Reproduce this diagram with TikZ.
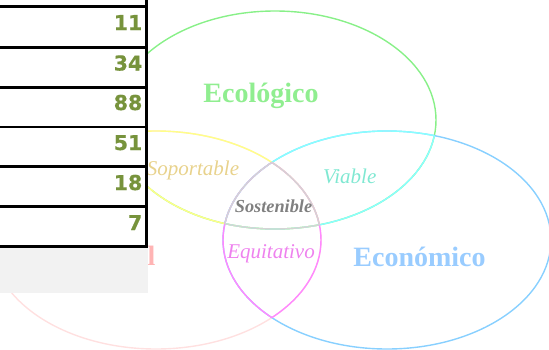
\documentclass[tikz,border=0pt]{standalone}
\usepackage{fontspec}
\setmainfont{Liberation Serif}
\newfontfamily\numfont[BoldFeatures={FakeBold=0.6}]{DejaVu Sans}
\definecolor{ecoline}{HTML}{88F088}
\definecolor{socline}{HTML}{FFE0E0}
\definecolor{econline}{HTML}{88D0FF}
\definecolor{yelline}{HTML}{FFFF88}
\definecolor{cyanline}{HTML}{88FFFF}
\definecolor{magline}{HTML}{FF88FF}
\definecolor{grayline}{HTML}{D4D4D4}
\definecolor{ecotext}{HTML}{90EE90}
\definecolor{econtext}{HTML}{99CCFF}
\definecolor{soctext}{HTML}{FFB4B4}
\definecolor{soptext}{HTML}{E8D28C}
\definecolor{viatext}{HTML}{80E8D2}
\definecolor{equtext}{HTML}{EE82EE}
\definecolor{sostext}{HTML}{808080}
\definecolor{numcol}{HTML}{77933C}
\definecolor{graybox}{HTML}{F2F2F2}
\tikzset{
  ring/.style={line width=1.4pt},
  biglabel/.style={font=\fontsize{28}{30}\selectfont\bfseries, inner sep=0pt, anchor=base},
  midlabel/.style={font=\fontsize{21}{24}\selectfont\itshape, inner sep=0pt, anchor=base},
  numlabel/.style={font=\fontsize{20.5}{22}\selectfont\numfont\bfseries, text=numcol, inner sep=0pt, anchor=base east},
  gridline/.style={line width=2.8pt, black}
}
\def\EcoPath{(275,120) ellipse [x radius=161pt, y radius=109pt]}
\def\SocPath{(156,240) ellipse [x radius=165pt, y radius=109pt]}
\def\EconPath{(387,240) ellipse [x radius=164pt, y radius=109pt]}
\begin{document}
\begin{tikzpicture}[x=1pt, y=-1pt]
\useasboundingbox (0,0) rectangle (549,349);
% base rings
\draw[ring, ecoline] \EcoPath;
\draw[ring, socline] \SocPath;
\draw[ring, econline] \EconPath;
% pairwise regions
\begin{scope}\clip \SocPath; \draw[ring, yelline] \EcoPath; \end{scope}
\begin{scope}\clip \EcoPath; \draw[ring, yelline] \SocPath; \end{scope}
\begin{scope}\clip \EconPath; \draw[ring, cyanline] \EcoPath; \end{scope}
\begin{scope}\clip \EcoPath; \draw[ring, cyanline] \EconPath; \end{scope}
\begin{scope}\clip \EconPath; \draw[ring, magline] \SocPath; \end{scope}
\begin{scope}\clip \SocPath; \draw[ring, magline] \EconPath; \end{scope}
% triple region
\begin{scope}\clip \SocPath; \clip \EconPath; \draw[ring, grayline] \EcoPath; \end{scope}
\begin{scope}\clip \EcoPath; \clip \EconPath; \draw[ring, grayline] \SocPath; \end{scope}
\begin{scope}\clip \EcoPath; \clip \SocPath; \draw[ring, grayline] \EconPath; \end{scope}
% labels
\node[biglabel, text=ecotext] (eco) at (261,102.5) {Ecológico};
\node[biglabel, text=econtext] (econ) at (419.5,266) {Económico};
\node[biglabel, text=soctext, anchor=base east] (soc) at (155.5,265) {Social};
\node[midlabel, text=soptext] (sop) at (193,175.5) {Soportable};
\node[midlabel, text=viatext] (via) at (349.7,183.3) {Viable};
\node[midlabel, text=equtext] (equ) at (271,258.3) {Equitativo};
\node[font=\fontsize{18.3}{20}\selectfont\bfseries\itshape, text=sostext, inner sep=0pt, anchor=base] (sos) at (273.5,212) {Sostenible};
% table
\fill[white] (-5,-5) rectangle (146.7,246.7);
\fill[graybox] (-5,246.7) rectangle (148,293);
\foreach \yy in {6.7,47.3,87.3,127,166.7,206.7,246.7}
  \draw[gridline] (-5,\yy) -- (148.1,\yy);
\draw[gridline] (146.7,-5) -- (146.7,248.1);
\node[numlabel] (n1) at (142.5,30) {11};
\node[numlabel] (n2) at (142.5,70.5) {34};
\node[numlabel] (n3) at (142.5,110) {88};
\node[numlabel] (n4) at (142.5,150) {51};
\node[numlabel] (n5) at (142.5,190) {18};
\node[numlabel] (n6) at (142.5,230) {7};
\end{tikzpicture}
\end{document}
